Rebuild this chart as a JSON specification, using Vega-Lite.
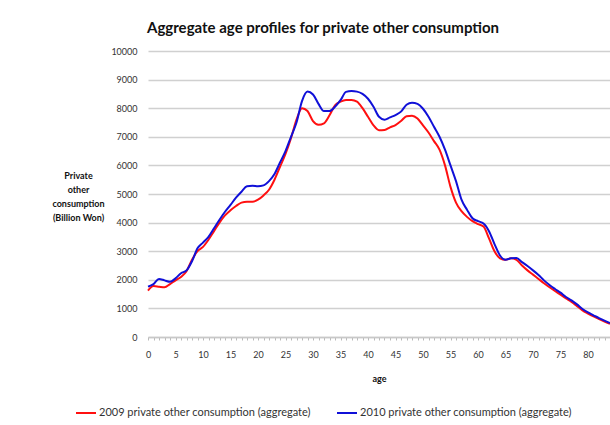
{
  "$schema": "https://vega.github.io/schema/vega-lite/v6.json",
  "width": 462,
  "height": 286,
  "autosize": {"type": "none"},
  "padding": {"left": 148, "top": 51, "right": 0, "bottom": 88},
  "background": "white",
  "config": {"font": "Lato", "view": {"stroke": null}},
  "title": {"text": "Aggregate age profiles for private other consumption", "anchor": "start", "frame": "group", "fontSize": 15, "fontWeight": "bold", "color": "#111", "font": "Lato", "dx": -1, "offset": 11},
  "data": {"values": [
    {"age":0,"y2009":1620,"y2010":1760},{"age":1,"y2009":1780,"y2010":1850},{"age":2,"y2009":1760,"y2010":2030},{"age":3,"y2009":1740,"y2010":1980},{"age":4,"y2009":1850,"y2010":1930},
    {"age":5,"y2009":1980,"y2010":2050},{"age":6,"y2009":2100,"y2010":2230},{"age":7,"y2009":2300,"y2010":2330},{"age":8,"y2009":2700,"y2010":2650},{"age":9,"y2009":3000,"y2010":3100},
    {"age":10,"y2009":3150,"y2010":3300},{"age":11,"y2009":3400,"y2010":3500},{"age":12,"y2009":3700,"y2010":3800},{"age":13,"y2009":4000,"y2010":4100},{"age":14,"y2009":4250,"y2010":4380},
    {"age":15,"y2009":4430,"y2010":4620},{"age":16,"y2009":4580,"y2010":4870},{"age":17,"y2009":4700,"y2010":5080},{"age":18,"y2009":4730,"y2010":5270},{"age":19,"y2009":4730,"y2010":5290},
    {"age":20,"y2009":4800,"y2010":5270},{"age":21,"y2009":4950,"y2010":5300},{"age":22,"y2009":5150,"y2010":5450},{"age":23,"y2009":5500,"y2010":5700},{"age":24,"y2009":5950,"y2010":6100},
    {"age":25,"y2009":6400,"y2010":6500},{"age":26,"y2009":6950,"y2010":7000},{"age":27,"y2009":7600,"y2010":7500},{"age":28,"y2009":8000,"y2010":8250},{"age":29,"y2009":7900,"y2010":8580},
    {"age":30,"y2009":7550,"y2010":8480},{"age":31,"y2009":7420,"y2010":8150},{"age":32,"y2009":7470,"y2010":7900},{"age":33,"y2009":7750,"y2010":7900},{"age":34,"y2009":8100,"y2010":8050},
    {"age":35,"y2009":8230,"y2010":8280},{"age":36,"y2009":8290,"y2010":8570},{"age":37,"y2009":8290,"y2010":8600},{"age":38,"y2009":8230,"y2010":8580},{"age":39,"y2009":8000,"y2010":8500},
    {"age":40,"y2009":7700,"y2010":8330},{"age":41,"y2009":7400,"y2010":8050},{"age":42,"y2009":7230,"y2010":7700},{"age":43,"y2009":7240,"y2010":7600},{"age":44,"y2009":7330,"y2010":7680},
    {"age":45,"y2009":7410,"y2010":7760},{"age":46,"y2009":7550,"y2010":7880},{"age":47,"y2009":7720,"y2010":8120},{"age":48,"y2009":7740,"y2010":8190},{"age":49,"y2009":7640,"y2010":8150},
    {"age":50,"y2009":7400,"y2010":7980},{"age":51,"y2009":7150,"y2010":7700},{"age":52,"y2009":6850,"y2010":7350},{"age":53,"y2009":6550,"y2010":7000},{"age":54,"y2009":6000,"y2010":6550},
    {"age":55,"y2009":5250,"y2010":6000},{"age":56,"y2009":4700,"y2010":5450},{"age":57,"y2009":4400,"y2010":4800},{"age":58,"y2009":4200,"y2010":4450},{"age":59,"y2009":4050,"y2010":4150},
    {"age":60,"y2009":3950,"y2010":4050},{"age":61,"y2009":3860,"y2010":3970},{"age":62,"y2009":3450,"y2010":3700},{"age":63,"y2009":3000,"y2010":3250},{"age":64,"y2009":2750,"y2010":2850},
    {"age":65,"y2009":2700,"y2010":2700},{"age":66,"y2009":2750,"y2010":2750},{"age":67,"y2009":2700,"y2010":2760},{"age":68,"y2009":2500,"y2010":2620},{"age":69,"y2009":2330,"y2010":2480},
    {"age":70,"y2009":2180,"y2010":2330},{"age":71,"y2009":2030,"y2010":2170},{"age":72,"y2009":1880,"y2010":1980},{"age":73,"y2009":1740,"y2010":1820},{"age":74,"y2009":1610,"y2010":1680},
    {"age":75,"y2009":1480,"y2010":1550},{"age":76,"y2009":1350,"y2010":1400},{"age":77,"y2009":1230,"y2010":1280},{"age":78,"y2009":1080,"y2010":1140},{"age":79,"y2009":930,"y2010":980},
    {"age":80,"y2009":820,"y2010":860},{"age":81,"y2009":720,"y2010":760},{"age":82,"y2009":630,"y2010":660},{"age":83,"y2009":540,"y2010":570},{"age":84,"y2009":460,"y2010":490}
  ]},
  "transform": [{"fold": ["y2009", "y2010"], "as": ["series", "value"]}],
  "mark": {"type": "line", "interpolate": "monotone", "strokeWidth": 2},
  "encoding": {
    "x": {
      "field": "age", "type": "quantitative",
      "scale": {"domain": [0, 84], "nice": false, "zero": false},
      "axis": {
        "title": "age", "titleFontSize": 9, "titleFontWeight": "bold", "titleColor": "#111",
        "titleBaseline": "middle", "titleY": 41,
        "values": [0,1,2,3,4,5,6,7,8,9,10,11,12,13,14,15,16,17,18,19,20,21,22,23,24,25,26,27,28,29,30,31,32,33,34,35,36,37,38,39,40,41,42,43,44,45,46,47,48,49,50,51,52,53,54,55,56,57,58,59,60,61,62,63,64,65,66,67,68,69,70,71,72,73,74,75,76,77,78,79,80,81,82,83,84],
        "labelExpr": "datum.value % 5 === 0 && datum.value <= 80 ? datum.label : ''",
        "labelFontSize": 9, "labelColor": "#333", "labelPadding": 10, "labelOverlap": false, "labelFlush": false,
        "grid": false, "ticks": true, "tickSize": 3, "tickColor": "#bbb",
        "domainColor": "#c8c8c8", "domainWidth": 1.5
      }
    },
    "y": {
      "field": "value", "type": "quantitative",
      "scale": {"domain": [0, 10000], "nice": false},
      "axis": {
        "title": ["Private", "other", "consumption", "(Billion Won)"],
        "titleAngle": 0, "titleAlign": "center", "titleBaseline": "top",
        "titleX": -70, "titleY": 120, "titleFontSize": 9, "titleFontWeight": "bold", "titleColor": "#111", "titleLineHeight": 14,
        "values": [0,1000,2000,3000,4000,5000,6000,7000,8000,9000,10000],
        "format": "d",
        "labelFontSize": 9, "labelColor": "#333", "labelPadding": 11,
        "ticks": false, "domain": false,
        "grid": true, "gridColor": "#d0d0d0", "gridWidth": 1.3
      }
    },
    "color": {
      "field": "series", "type": "nominal",
      "scale": {"domain": ["y2009", "y2010"], "range": ["#ff1010", "#1010d8"]},
      "legend": {
        "title": null, "orient": "none", "legendX": -73, "legendY": 351, "direction": "horizontal",
        "symbolType": "stroke", "symbolSize": 400, "symbolStrokeWidth": 2,
        "labelFontSize": 11, "labelColor": "#333", "labelLimit": 400, "labelOffset": 2, "columnPadding": 22,
        "labelExpr": "datum.label == 'y2009' ? '2009 private other consumption (aggregate)' : '2010 private other consumption (aggregate)'"
      }
    }
  }
}
